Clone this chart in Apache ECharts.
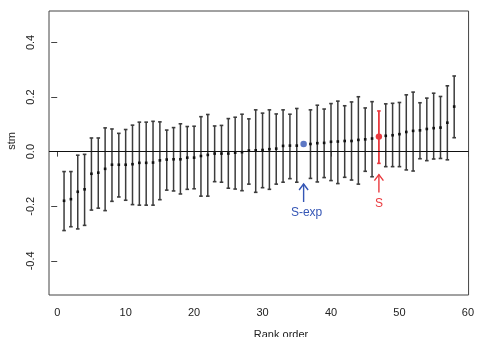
<!DOCTYPE html>
<html>
<head>
<meta charset="utf-8">
<script src="https://cdn.jsdelivr.net/npm/echarts@6/dist/echarts.min.js"></script>
<style>html,body{margin:0;padding:0;background:#fff}#c{width:477px;height:337px}</style>
</head>
<body>
<div id="c"></div>
<script>
// ---- data ----
const ranks = [1,2,3,4,5,6,7,8,9,10,11,12,13,14,15,16,17,18,19,20,21,22,23,24,25,26,27,28,29,30,31,32,33,34,35,37,38,39,40,41,42,43,44,45,46,48,49,50,51,52,53,54,55,56,57,58];
const means = [-0.180,-0.174,-0.147,-0.138,-0.081,-0.077,-0.063,-0.048,-0.048,-0.048,-0.046,-0.041,-0.041,-0.040,-0.032,-0.029,-0.028,-0.028,-0.022,-0.022,-0.016,-0.012,-0.007,-0.007,-0.007,-0.004,-0.002,0.004,0.005,0.006,0.009,0.011,0.021,0.022,0.022,0.028,0.031,0.032,0.036,0.037,0.039,0.039,0.043,0.045,0.048,0.058,0.060,0.064,0.072,0.076,0.078,0.083,0.086,0.088,0.106,0.165];
const lower = [-0.289,-0.275,-0.283,-0.270,-0.214,-0.207,-0.216,-0.182,-0.166,-0.178,-0.194,-0.196,-0.196,-0.196,-0.176,-0.141,-0.144,-0.155,-0.138,-0.136,-0.163,-0.163,-0.110,-0.112,-0.134,-0.137,-0.143,-0.119,-0.149,-0.132,-0.138,-0.119,-0.112,-0.099,-0.112,-0.098,-0.111,-0.095,-0.106,-0.117,-0.094,-0.104,-0.119,-0.072,-0.092,-0.055,-0.055,-0.055,-0.067,-0.071,-0.026,-0.033,-0.027,-0.025,-0.030,0.051];
const upper = [-0.073,-0.073,-0.013,-0.010,0.050,0.050,0.087,0.083,0.067,0.081,0.097,0.108,0.108,0.111,0.109,0.079,0.088,0.102,0.092,0.093,0.128,0.136,0.094,0.096,0.121,0.126,0.137,0.120,0.153,0.141,0.153,0.138,0.153,0.137,0.158,0.153,0.170,0.156,0.176,0.185,0.168,0.182,0.201,0.160,0.183,0.175,0.177,0.180,0.208,0.218,0.179,0.196,0.214,0.202,0.241,0.277];
// S-exp point (no interval) and S point (with interval)
const sExpRank = 36, sExpMean = 0.028;
const sRank = 47, sMean = 0.055, sLower = -0.043, sUpper = 0.149;
const xTicks = [0,10,20,30,40,50,60];
const yTicks = [-0.4,-0.2,0.0,0.2,0.4];

const BLUE = '#3556b5', RED = '#ea3a3f';
const FONT = 'Liberation Sans, Arial, sans-serif';

const barData = ranks.map((r,i)=>[r, lower[i], upper[i], means[i]]);

function errRender(color, lw, dotSize, dotRound){
  return function(params, api){
    const x = api.value(0), lo = api.value(1), hi = api.value(2), m = api.value(3);
    const a = api.coord([x, lo]), b = api.coord([x, hi]), c = api.coord([x, m]);
    const cap = 1.8;
    const st = {stroke: color, lineWidth: lw};
    const ch = [
      {type:'line', shape:{x1:a[0],y1:a[1],x2:b[0],y2:b[1]}, style:st},
      {type:'line', shape:{x1:a[0]-cap,y1:a[1],x2:a[0]+cap,y2:a[1]}, style:{stroke:color,lineWidth:1.6}},
      {type:'line', shape:{x1:b[0]-cap,y1:b[1],x2:b[0]+cap,y2:b[1]}, style:{stroke:color,lineWidth:1.6}}
    ];
    if (dotRound) ch.push({type:'circle', shape:{cx:c[0],cy:c[1],r:dotSize}, style:{fill:color}});
    else ch.push({type:'rect', shape:{x:c[0]-dotSize,y:c[1]-dotSize,width:dotSize*2,height:dotSize*2}, style:{fill:'#111'}});
    return {type:'group', children:ch};
  };
}

function arrowRender(color, text, gap){
  return function(params, api){
    const p = api.coord([api.value(0), api.value(1)]);
    const top = p[1] + gap, bot = top + 18;
    const st = {stroke: color, lineWidth: 1.4};
    return {type:'group', children:[
      {type:'line', shape:{x1:p[0],y1:top,x2:p[0],y2:bot}, style:st},
      {type:'polyline', shape:{points:[[p[0]-4.5,top+6],[p[0],top],[p[0]+4.5,top+6]]}, style:Object.assign({fill:null},st)},
      {type:'text', x:p[0] + (text.length>1?3:0), y:bot+11, style:{text:text, fill:color, font:'12px ' + FONT, align:'center', verticalAlign:'middle'}}
    ]};
  };
}

const chart = echarts.init(document.getElementById('c'), null, {renderer:'canvas'});
chart.setOption({
  animation:false,
  backgroundColor:'#fff',
  grid:{left:49, top:11, right:3.5, bottom:42, show:true, borderColor:'#444', borderWidth:1, backgroundColor:'transparent'},
  xAxis:{type:'value', min:-1.2, max:60.1,
    axisLine:{show:false}, splitLine:{show:false},
    axisTick:{show:true, length:5, lineStyle:{color:'#444'}, customValues:xTicks},
    axisLabel:{show:true, customValues:xTicks, margin:12, color:'#222', fontSize:11, fontFamily:FONT, formatter:v=>String(v)}
  },
  yAxis:{type:'value', min:-0.525, max:0.515,
    axisLine:{show:false}, splitLine:{show:false},
    axisTick:{show:true, length:6, lineStyle:{color:'#444'}, customValues:yTicks},
    axisLabel:{show:true, customValues:yTicks, rotate:90, margin:13, color:'#222', fontSize:11, fontFamily:FONT, formatter:v=>v.toFixed(1)}
  },
  graphic:[
    {type:'text', x:12, y:141, rotation:Math.PI/2, style:{text:'stm', font:'11px ' + FONT, fill:'#222', align:'center', verticalAlign:'middle'}},
    {type:'text', x:281, y:335, style:{text:'Rank order', font:'11px ' + FONT, fill:'#222', align:'center', verticalAlign:'middle'}}
  ],
  series:[
    {type:'custom', name:'bars', data:barData, renderItem:errRender('#3c3c3c', 1.5, 1.3, false), silent:true,
      markLine:{silent:true, symbol:'none', label:{show:false}, lineStyle:{color:'#111', width:1, type:'solid'}, data:[{yAxis:0}]}
    },
    {type:'custom', name:'S', data:[[sRank, sLower, sUpper, sMean]], renderItem:errRender(RED, 1.8, 3.2, true), silent:true},
    {type:'scatter', name:'S-exp', data:[[sExpRank, sExpMean]], symbol:'circle', symbolSize:6.5, itemStyle:{color:BLUE}, silent:true},
    {type:'custom', name:'arrowSexp', data:[[sExpRank, sExpMean]], renderItem:arrowRender(BLUE, 'S-exp', 40), silent:true},
    {type:'custom', name:'arrowS', data:[[sRank, sMean]], renderItem:arrowRender(RED, 'S', 38), silent:true}
  ]
});
</script>
</body>
</html>
